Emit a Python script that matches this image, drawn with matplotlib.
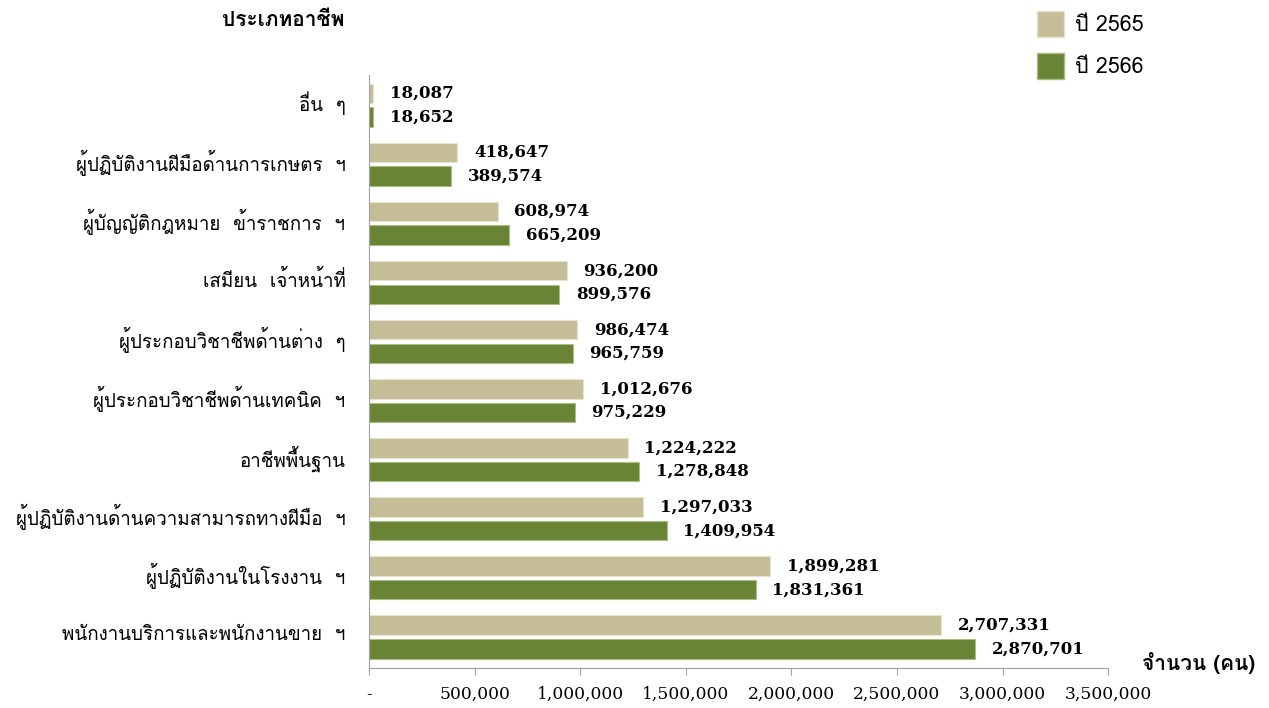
import matplotlib
matplotlib.use("Agg")
import matplotlib.pyplot as plt
import matplotlib.transforms as mtransforms
from matplotlib.ticker import FuncFormatter, MultipleLocator
from matplotlib.patches import Patch

# categories listed top to bottom as in the chart
categories = [
    "อื่น  ๆ",
    "ผู้ปฏิบัติงานฝีมือด้านการเกษตร  ฯ",
    "ผู้บัญญัติกฎหมาย  ข้าราชการ  ฯ",
    "เสมียน  เจ้าหน้าที่",
    "ผู้ประกอบวิชาชีพด้านต่าง  ๆ",
    "ผู้ประกอบวิชาชีพด้านเทคนิค  ฯ",
    "อาชีพพื้นฐาน",
    "ผู้ปฏิบัติงานด้านความสามารถทางฝีมือ  ฯ",
    "ผู้ปฏิบัติงานในโรงงาน  ฯ",
    "พนักงานบริการและพนักงานขาย  ฯ",
]
y2565 = [18087, 418647, 608974, 936200, 986474, 1012676, 1224222, 1297033, 1899281, 2707331]
y2566 = [18652, 389574, 665209, 899576, 965759, 975229, 1278848, 1409954, 1831361, 2870701]
legend_labels = ["ปี 2565", "ปี 2566"]

c65 = "#C4BD97"
c66 = "#6A8436"
thai = ["Loma", "Noto Sans Thai Looped", "DejaVu Sans"]

fig = plt.figure(figsize=(12.69, 7.08), dpi=100)
ax = fig.add_axes([0.2908, 0.0565, 0.5824, 0.8375])

n = len(categories)
pos = [n - 1 - i for i in range(n)]
h = 0.33
ax.barh([p + 0.2 for p in pos], y2565, height=h, color=c65, edgecolor="#E6E2CF", linewidth=0.8)
ax.barh([p - 0.2 for p in pos], y2566, height=h, color=c66, edgecolor="#A9BC84", linewidth=0.8)

for p, v in zip(pos, y2565):
    ax.annotate(f"{v:,}", (v, p + 0.2), xytext=(12, 0), textcoords="offset points",
                ha="left", va="center", fontsize=12, fontweight="bold", family="DejaVu Serif")
for p, v in zip(pos, y2566):
    ax.annotate(f"{v:,}", (v, p - 0.2), xytext=(12, 0), textcoords="offset points",
                ha="left", va="center", fontsize=12, fontweight="bold", family="DejaVu Serif")

ax.set_xlim(0, 3500000)
ax.set_ylim(-0.525, 9.51)
ax.xaxis.set_major_locator(MultipleLocator(500000))
ax.xaxis.set_major_formatter(FuncFormatter(lambda v, _: "-" if v == 0 else f"{v:,.0f}"))
for lab in ax.get_xticklabels():
    lab.set_family("DejaVu Serif")
ax.tick_params(axis="x", length=5, color="#A0A0A0", pad=8, labelsize=12.3)
ax.set_yticks(pos)
ax.set_yticklabels(categories, family=thai, fontsize=13.5, va="center_baseline")
ax.tick_params(axis="y", length=0, pad=17)
# nudge the Thai labels up a little, Loma sits low
shift = mtransforms.ScaledTranslation(0, 4 / 100, fig.dpi_scale_trans)
for lab in ax.get_yticklabels():
    lab.set_transform(lab.get_transform() + shift)

for s in ["top", "right"]:
    ax.spines[s].set_visible(False)
for s in ["left", "bottom"]:
    ax.spines[s].set_color("#A0A0A0")

fig.text(222 / 1269, 1 - 20 / 708, "ประเภทอาชีพ", family=thai, fontweight="bold",
         fontsize=15, ha="left", va="center")
fig.text(1255 / 1269, 1 - 663 / 708, "จำนวน (คน)", family=thai, fontweight="bold",
         fontsize=15, ha="right", va="center", fontstretch="condensed")

handles = [Patch(facecolor=c65, edgecolor="#E6E2CF"), Patch(facecolor=c66, edgecolor="#A9BC84")]
fig.legend(handles, legend_labels, loc="upper left", bbox_to_anchor=(1018 / 1269, 1 + 8 / 708),
           frameon=False, prop={"family": thai, "size": 15.5}, handlelength=1.25,
           handleheight=1.45, labelspacing=0.75, handletextpad=0.5)

fig.savefig("out.png")
